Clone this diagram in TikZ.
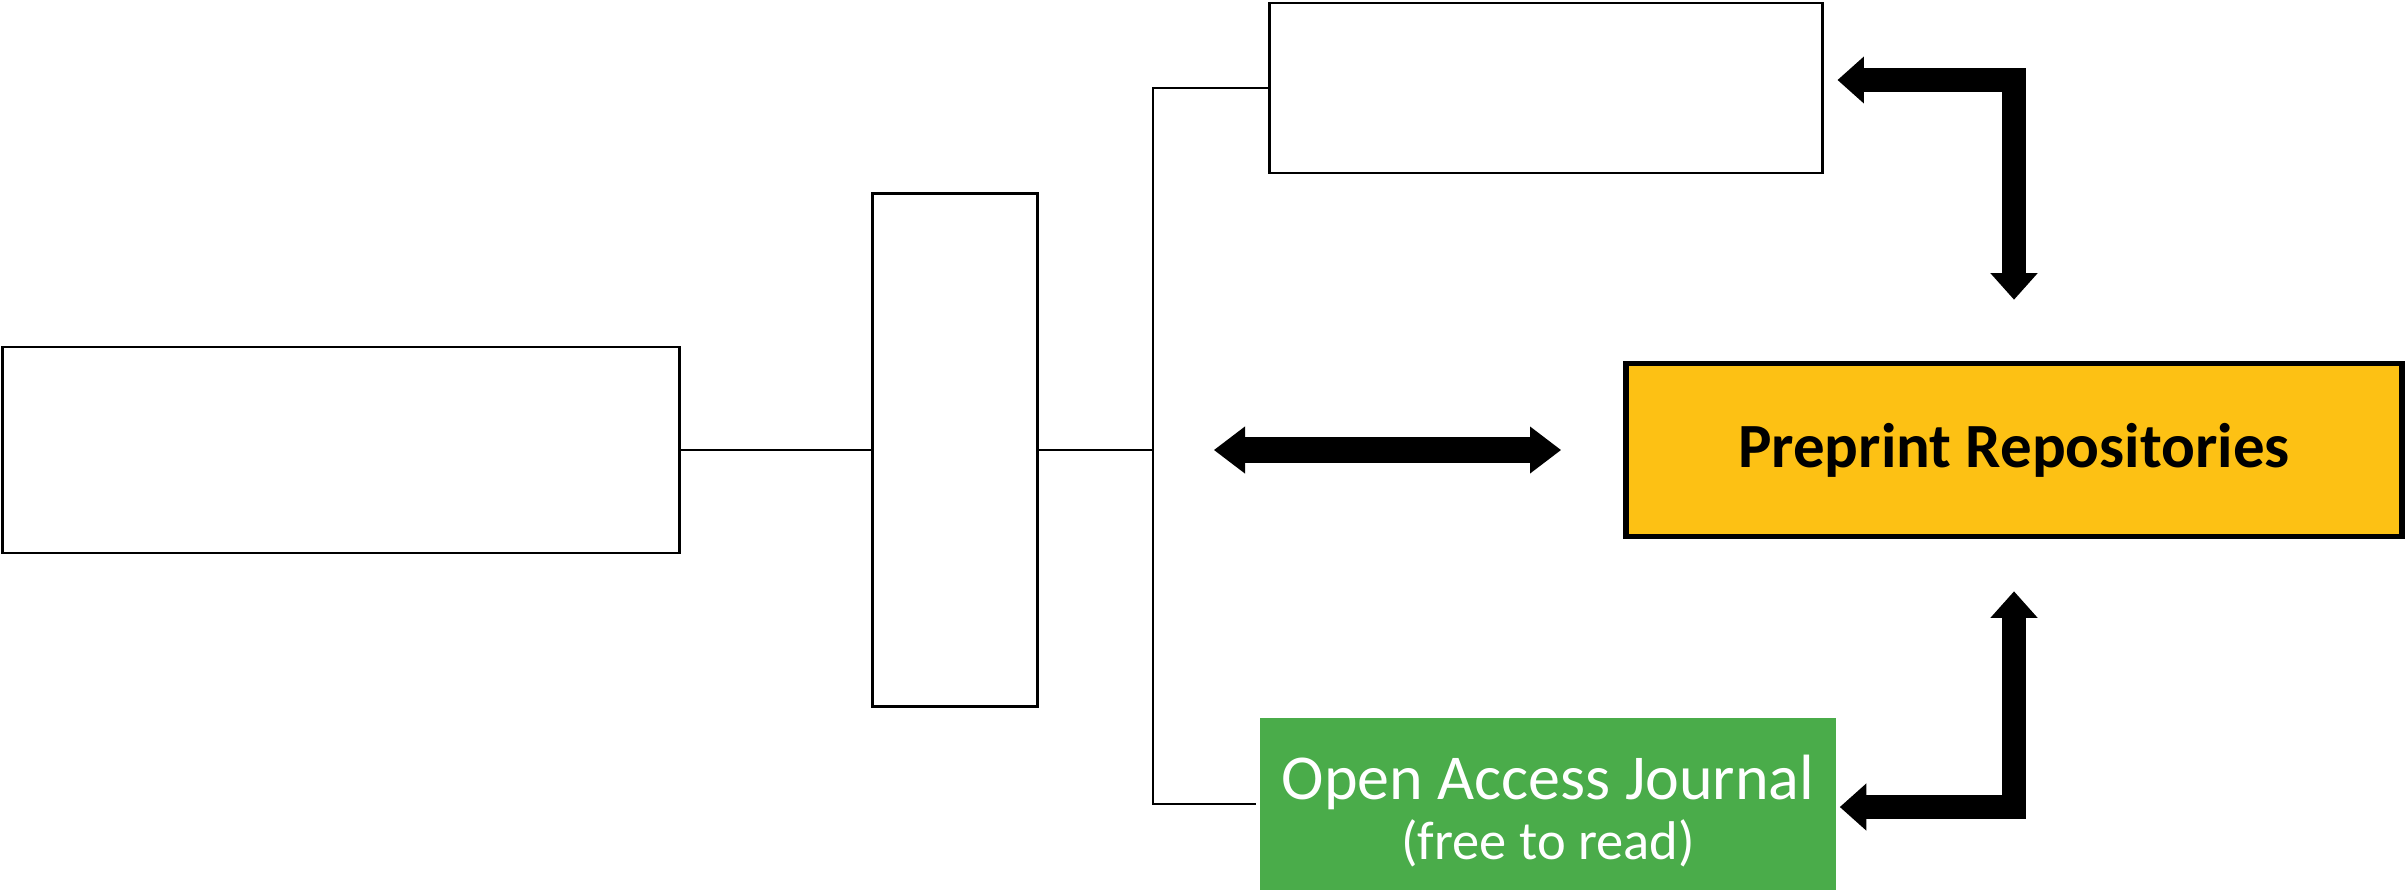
\documentclass[tikz,border=0pt]{standalone}
\usepackage{fontspec}
\setmainfont{Carlito}
\usetikzlibrary{arrows.meta}
\definecolor{preyellow}{HTML}{FDC114}
\definecolor{oagreen}{HTML}{4AAC4A}
\tikzset{
  plainbox/.style={draw, line width=0.8pt, inner sep=0pt},
  fatarrow/.style={line width=7pt, miter limit=10, line join=miter,
    {Triangle[length=7.5pt, width=13.4pt, line width=0pt]}-{Triangle[length=7.5pt, width=13.4pt, line width=0pt]}},
  thinarrow/.style={line width=7.2pt,
    {Triangle[length=8.8pt, width=13.4pt, line width=0pt]}-{Triangle[length=8.8pt, width=13.4pt, line width=0pt]}}
}
\begin{document}
\begin{tikzpicture}[x=0.01cm, y=-0.01cm]
  \useasboundingbox (0,0) rectangle (2407,890);
  % boxes
  \node[plainbox, minimum width=6.76cm, minimum height=2.06cm] (left) at (341,450) {};
  \node[plainbox, minimum width=1.65cm, minimum height=5.13cm] (mid) at (955,450) {};
  \node[plainbox, minimum width=5.52cm, minimum height=1.70cm] (top) at (1546,88) {};
  \node[draw, line width=1.6pt, fill=preyellow, minimum width=7.76cm, minimum height=1.73cm,
    font=\fontsize{17.9}{20}\selectfont\bfseries] (pre) at (2014,450) {Preprint Repositories};
  \node[fill=oagreen, minimum width=5.76cm, minimum height=1.72cm] (oa) at (1548,804) {};
  \node[text=white, align=center, font=\fontsize{18.2}{16.8}\selectfont] (oatext) at (1548,811)
    {Open Access Journal\\{\fontsize{15.5}{16.8}\selectfont (free to read)}};
  % tree lines
  \coordinate (bus) at (1153,450);
  \draw[line width=0.8pt] (left.east) -- (mid.west);
  \draw[line width=0.8pt] (mid.east) -- (bus);
  \draw[line width=0.8pt] (top.west) -| (bus) |- ([xshift=-0.03cm]oa.west);
  % arrows
  \draw[thinarrow] ([xshift=0.61cm]bus) -- ([xshift=-0.62cm]bus -| pre.west);
  \draw[fatarrow] ([xshift=0.14cm, yshift=0.08cm]top.east) -| ([yshift=0.61cm]pre.north);
  \draw[fatarrow] ([yshift=-0.52cm]pre.south) |- ([xshift=0.03cm, yshift=-0.03cm]oa.east);
\end{tikzpicture}
\end{document}
